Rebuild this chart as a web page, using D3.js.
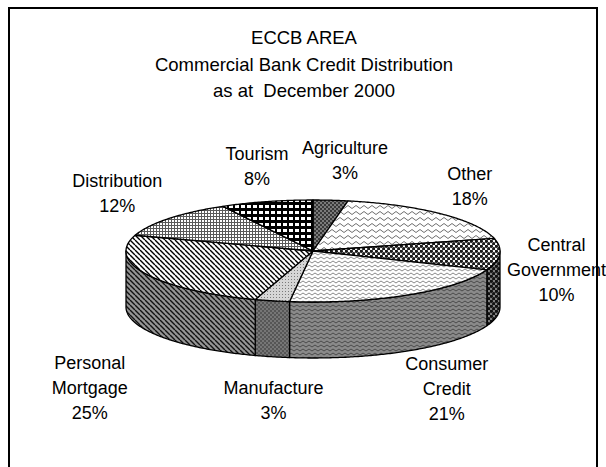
<!DOCTYPE html>
<html>
<head>
<meta charset="utf-8">
<script src="https://cdn.jsdelivr.net/npm/d3@7"></script>
<style>
  html, body { margin: 0; padding: 0; background: #fff; }
  svg { display: block; }
  text { font-family: "Liberation Sans", Arial, sans-serif; fill: #000; white-space: pre; }
</style>
</head>
<body>
<div id="chart"></div>
<script>
// Credit distribution by sector (percent of total), clockwise from 12 o'clock
const categories = ["Agriculture", "Other", "Central Government", "Consumer Credit",
                    "Manufacture", "Personal Mortgage", "Distribution", "Tourism"];
const shares = [3, 18, 10, 21, 3, 25, 12, 8];
const labelLines = [["Agriculture"], ["Other"], ["Central", "Government"], ["Consumer", "Credit"],
                    ["Manufacture"], ["Personal", "Mortgage"], ["Distribution"], ["Tourism"]];
const titleLines = ["ECCB AREA", "Commercial Bank Credit Distribution", "as at  December 2000"];

const W = 606, H = 467;
const cx = 313, cy = 251, rx = 187, ry = 51, depth = 56;

const svg = d3.select("#chart").append("svg")
  .attr("width", W).attr("height", H);

// ---------- fill patterns (top face + darker side wall) ----------
const defs = svg.append("defs");
function pattern(id, w, h, bg, draw) {
  const p = defs.append("pattern").attr("id", id)
    .attr("patternUnits", "userSpaceOnUse").attr("width", w).attr("height", h);
  p.append("rect").attr("width", w).attr("height", h).attr("fill", bg);
  draw(p);
}
function checker(p, s, c) {
  p.append("rect").attr("x", 0).attr("y", 0).attr("width", s).attr("height", s).attr("fill", c);
  p.append("rect").attr("x", s).attr("y", s).attr("width", s).attr("height", s).attr("fill", c);
}
function zigzag(p, w, h, c, sw) {
  p.append("path").attr("d", `M0,${h * 0.75} L${w / 2},${h * 0.25} L${w},${h * 0.75}`)
    .attr("fill", "none").attr("stroke", c).attr("stroke-width", sw);
}
function diag(p, s, c, sw) {
  p.append("path").attr("d", `M0,0 L${s},${s} M${-s},0 L0,${s} M${s},0 L${2 * s},${s}`)
    .attr("stroke", c).attr("stroke-width", sw);
}
function dots(p, s, r, c) {
  p.append("circle").attr("cx", s / 4).attr("cy", s / 4).attr("r", r).attr("fill", c);
  p.append("circle").attr("cx", 3 * s / 4).attr("cy", 3 * s / 4).attr("r", r).attr("fill", c);
}

const fills = [
  { top: "pAgriTop", side: "pAgriSide" },
  { top: "pOtherTop", side: "pOtherSide" },
  { top: "pGovTop", side: "pGovSide" },
  { top: "pConsTop", side: "pConsSide" },
  { top: "pManTop", side: "pManSide" },
  { top: "pMortTop", side: "pMortSide" },
  { top: "pDistTop", side: "pDistSide" },
  { top: "pTourTop", side: "pTourSide" }
];

pattern("pAgriTop", 4, 4, "#7a7a7a", p => checker(p, 2, "#383838"));
pattern("pAgriSide", 4, 4, "#6a6a6a", p => checker(p, 2, "#2a2a2a"));
pattern("pOtherTop", 8, 6, "#ffffff", p => zigzag(p, 8, 6, "#6e6e6e", 1));
pattern("pOtherSide", 8, 6, "#a0a0a0", p => zigzag(p, 8, 6, "#444", 1));
pattern("pGovTop", 5, 5, "#f4f4f4", p => dots(p, 5, 1.7, "#1a1a1a"));
pattern("pGovSide", 5, 5, "#7e7e7e", p => dots(p, 5, 1.7, "#111"));
pattern("pConsTop", 6, 4, "#ffffff", p => zigzag(p, 6, 4, "#8a8a8a", 1));
pattern("pConsSide", 6, 4, "#8a8a8a", p => zigzag(p, 6, 4, "#4a4a4a", 1));
pattern("pManTop", 3, 3, "#d6d6d6", p => p.append("rect").attr("width", 1).attr("height", 1).attr("fill", "#7a7a7a"));
pattern("pManSide", 4, 4, "#767676", p => checker(p, 2, "#565656"));
pattern("pMortTop", 5, 5, "#ffffff", p => diag(p, 5, "#000", 1.4));
pattern("pMortSide", 5, 5, "#959595", p => diag(p, 5, "#111", 1.4));
pattern("pDistTop", 3, 3, "#ffffff", p => {
  p.append("path").attr("d", "M0,0.5 H3 M0.5,0 V3").attr("stroke", "#5a5a5a").attr("stroke-width", 1);
});
pattern("pDistSide", 3, 3, "#9a9a9a", p => {
  p.append("path").attr("d", "M0,0.5 H3 M0.5,0 V3").attr("stroke", "#333").attr("stroke-width", 1);
});
pattern("pTourTop", 6, 6, "#000000", p => {
  p.append("rect").attr("x", 1).attr("y", 1).attr("width", 4).attr("height", 3).attr("fill", "#fff");
});
pattern("pTourSide", 6, 6, "#000000", p => {
  p.append("rect").attr("x", 1).attr("y", 1).attr("width", 4).attr("height", 3).attr("fill", "#999");
});

// ---------- frame ----------
svg.append("rect").attr("x", 9).attr("y", 8).attr("width", 588).attr("height", 480)
  .attr("fill", "none").attr("stroke", "#000").attr("stroke-width", 2);

// ---------- title ----------
const titleY = d3.scaleLinear().domain([0, 1]).range([44, 70.5]);
svg.append("g").selectAll("text").data(titleLines).join("text")
  .attr("x", 304).attr("y", (d, i) => titleY(i))
  .attr("text-anchor", "middle").attr("font-size", 18.5)
  .text(d => d);

// ---------- 3-D pie ----------
const pie = d3.pie().sort(null).value(d => d).startAngle(0).endAngle(2 * Math.PI);
const arcs = pie(shares);

const pt = (a, dy = 0) => [cx + rx * Math.sin(a), cy - ry * Math.cos(a) + dy];
function arcPoints(a0, a1, dy = 0) {
  const n = Math.max(2, Math.ceil(Math.abs(a1 - a0) / 0.01));
  return d3.range(n + 1).map(i => pt(a0 + (a1 - a0) * i / n, dy));
}
const line = d3.line();

// side walls: only the front half (angles between π/2 and 3π/2) is visible
const g = svg.append("g");
arcs.forEach((d, i) => {
  const b0 = Math.max(d.startAngle, Math.PI / 2);
  const b1 = Math.min(d.endAngle, 3 * Math.PI / 2);
  if (b1 <= b0) return;
  const pts = arcPoints(b0, b1).concat(arcPoints(b1, b0, depth));
  g.append("path").attr("d", line(pts) + "Z")
    .attr("fill", `url(#${fills[i].side})`)
    .attr("stroke", "#000").attr("stroke-width", 1.3).attr("stroke-linejoin", "round");
});

// top faces
arcs.forEach((d, i) => {
  const pts = [[cx, cy]].concat(arcPoints(d.startAngle, d.endAngle));
  g.append("path").attr("d", line(pts) + "Z")
    .attr("fill", `url(#${fills[i].top})`)
    .attr("stroke", "#000").attr("stroke-width", 1.3).attr("stroke-linejoin", "round");
});

// ---------- labels ----------
const lrx = 245, lry = 95, lh = 25;
const nudge = [[9, 4], [-11, 4], [-1, 13], [9, 0], [14, 0], [-5, 37], [-7, 3], [5, 7]];
const lg = svg.append("g");
arcs.forEach((d, i) => {
  const m = (d.startAngle + d.endAngle) / 2;
  const front = -Math.cos(m) > 0.2;   // labels below the pie clear the side wall
  const x = cx + lrx * Math.sin(m) + nudge[i][0];
  const yc = cy - lry * Math.cos(m) + (front ? depth : 0) + nudge[i][1];
  const lines = labelLines[i].concat([shares[i] + "%"]);
  const y0 = yc - (lines.length - 1) * lh / 2 + 6.5;
  const t = lg.append("text").attr("text-anchor", "middle").attr("font-size", 18);
  lines.forEach((s, k) => t.append("tspan").attr("x", x).attr("y", y0 + k * lh).text(s));
});
</script>
</body>
</html>
